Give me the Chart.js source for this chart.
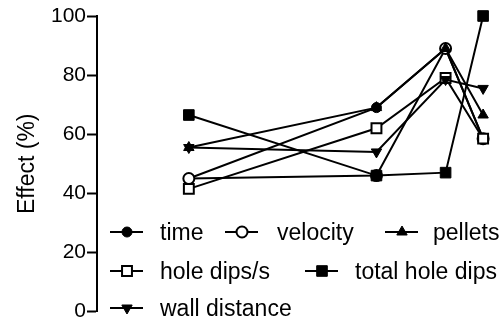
<!DOCTYPE html>
<html>
<head>
<meta charset="utf-8">
<script src="https://cdn.jsdelivr.net/npm/chart.js@4.4.1/dist/chart.umd.min.js"></script>
<style>
html, body { margin: 0; padding: 0; background: #fff; }
#caixa { width: 501px; height: 322px; }
</style>
</head>
<body>
<div id="caixa"><canvas id="grafico" width="501" height="322"></canvas></div>
<script>
// x positions of the four measurements (no x axis is shown in the figure)
const xPontos = [23.25, 70.75, 88.25, 97.75];
const yTicks = [0, 20, 40, 60, 80, 100];

const nomes = ["time", "velocity", "pellets", "hole dips/s", "total hole dips", "wall distance"];
const time = [45, 69, 89, 58.5];
const velocity = [45, 46, 89, 58.5];
const pellets = [55.5, 69, 89, 66.5];
const holeDipsS = [41.5, 62, 79, 58.5];
const totalHoleDips = [66.5, 46, 47, 100];
const wallDistance = [55.5, 54, 78.5, 75.5];

const fonte = 'Arial, "Liberation Sans", sans-serif';

const estilos = [
    { pointStyle: 'circle', fill: '#000', radius: 5, rotation: 0 },
    { pointStyle: 'circle', fill: '#fff', radius: 5.5, rotation: 0 },
    { pointStyle: 'triangle', fill: '#000', radius: 6, rotation: 0 },
    { pointStyle: 'rect', fill: '#fff', radius: 7, rotation: 0 },
    { pointStyle: 'rect', fill: '#000', radius: 7.5, rotation: 0 },
    { pointStyle: 'triangle', fill: '#000', radius: 6, rotation: 180 }
];
const valores = [time, velocity, pellets, holeDipsS, totalHoleDips, wallDistance];

const datasets = valores.map((vals, i) => ({
    label: nomes[i],
    data: vals.map((v, j) => ({ x: xPontos[j], y: v })),
    borderColor: '#000',
    borderWidth: 2,
    tension: 0,
    fill: false,
    clip: false,
    order: 6 - i,
    pointStyle: estilos[i].pointStyle,
    pointRotation: estilos[i].rotation,
    pointRadius: estilos[i].radius,
    pointBackgroundColor: estilos[i].fill,
    pointBorderColor: '#000',
    pointBorderWidth: estilos[i].fill === '#fff' ? 2 : 1
}));

// legend placement: marker centre x, row y, text x
const legendaPos = [
    [127, 232, 160], [242, 232, 277], [402, 232, 433],
    [127, 271, 160], [322, 271, 355],
    [127, 308, 160]
];

const legendaPlugin = {
    id: 'legendaPlugin',
    afterDraw(chart) {
        const ctx = chart.ctx;
        ctx.save();
        ctx.font = '23px ' + fonte;
        ctx.fillStyle = '#000';
        ctx.textBaseline = 'alphabetic';
        ctx.textAlign = 'left';
        nomes.forEach((n, i) => {
            const [cx, cy, tx] = legendaPos[i];
            ctx.strokeStyle = '#000';
            ctx.lineWidth = 2;
            ctx.beginPath();
            ctx.moveTo(cx - 17, cy);
            ctx.lineTo(cx + 16, cy);
            ctx.stroke();
            ctx.fillStyle = estilos[i].fill;
            ctx.lineWidth = estilos[i].fill === '#fff' ? 2 : 1;
            Chart.helpers.drawPoint(ctx, {
                pointStyle: estilos[i].pointStyle,
                rotation: estilos[i].rotation,
                radius: estilos[i].radius,
                borderWidth: ctx.lineWidth
            }, cx, cy);
            ctx.fillStyle = '#000';
            ctx.fillText(n, tx, cy + 8);
        });
        ctx.restore();
    }
};

new Chart(document.getElementById('grafico'), {
    type: 'line',
    data: { datasets: datasets },
    options: {
        responsive: false,
        animation: false,
        layout: { padding: { top: 16, right: 4, bottom: 10, left: 0 } },
        plugins: { legend: { display: false }, tooltip: { enabled: false } },
        scales: {
            x: { type: 'linear', min: 0, max: 100, display: false },
            y: {
                min: 0, max: 100,
                afterFit: (s) => { s.width = 97; },
                afterBuildTicks: (s) => { s.ticks = yTicks.map(v => ({ value: v })); },
                border: { display: true, color: '#000', width: 2 },
                grid: { display: true, drawOnChartArea: false, drawTicks: true, tickLength: 10, tickWidth: 2, tickColor: '#000' },
                ticks: { color: '#000', padding: 1, font: { size: 21, family: fonte, lineHeight: 0.9 } },
                title: { display: true, text: 'Effect (%)', color: '#000', font: { size: 23, family: fonte }, padding: { top: 14, bottom: 0 } }
            }
        }
    },
    plugins: [legendaPlugin]
});
</script>
</body>
</html>
